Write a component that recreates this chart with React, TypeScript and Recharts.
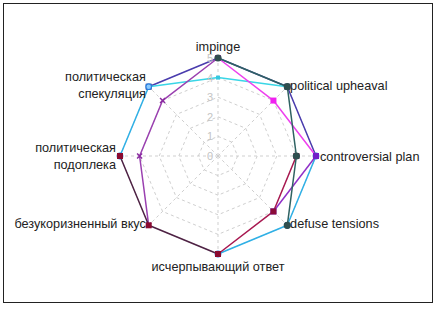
import { RadarChart, Radar, PolarGrid, PolarAngleAxis, PolarRadiusAxis } from 'recharts';

const categories = [
  'impinge',
  'political upheaval',
  'controversial plan',
  'defuse tensions',
  'исчерпывающий ответ',
  'безукоризненный вкус',
  'политическая\nподоплека',
  'политическая\nспекуляция',
];

// values per category, clockwise from the top; null = series not drawn on that axis
const navyValues = [5, 5, 5, null, null, null, null, 5];
const cyanValues = [4, 5, null, null, null, null, null, 5];
const magentaValues = [5, 4, 5, null, null, null, null, null];
const violetValues = [5, null, null, null, null, 5, 4, 4];
const skyValues = [null, null, 5, 5, 5, null, 5, 5];
const purpleValues = [null, null, 5, 4, null, null, null, null];
const crimsonValues = [null, null, 4, 4, 5, null, null, null];
const tealValues = [5, 5, 4, 5, null, null, null, null];
const maroonValues = [null, null, null, null, 5, 5, 5, null];

const radiusTicks = [0, 1, 2, 3, 4, 5];

const data = categories.map((name, i) => ({
  name,
  navy: navyValues[i],
  cyan: cyanValues[i],
  magenta: magentaValues[i],
  violet: violetValues[i],
  sky: skyValues[i],
  purple: purpleValues[i],
  crimson: crimsonValues[i],
  teal: tealValues[i],
  maroon: maroonValues[i],
}));

const CX = 218;
const CY = 156;
const RADIUS = 98;
const FONT = '"Liberation Sans", Arial, sans-serif';

function AngleTick(props: any) {
  const { payload } = props;
  const rad = (payload.coordinate * Math.PI) / 180;
  const cos = Math.cos(rad);
  const sin = Math.sin(rad);
  let x = CX + (RADIUS + 4) * cos;
  let y = CY - RADIUS * sin;
  if (Math.abs(cos) < 0.01) {
    x = CX;
    y -= 12 * Math.sign(sin);
  } else if (Math.abs(sin) > 0.01) {
    y -= 1.5;
  }
  const anchor = cos > 0.01 ? 'start' : cos < -0.01 ? 'end' : 'middle';
  const lines = String(payload.value).split('\n');
  return (
    <text x={x} y={y} textAnchor={anchor} fontSize={12.7} fill="#222" fontFamily={FONT}>
      {lines.map((line, i) => (
        <tspan key={i} x={x} y={y + 4.5 + (i - (lines.length - 1) / 2) * 17}>
          {line}
        </tspan>
      ))}
    </text>
  );
}

function RadiusTick(props: any) {
  const { x, y, payload } = props;
  return (
    <text x={x - 8} y={y + 4} textAnchor="middle" fontSize={11} fill="#c4c4c4" fontFamily={FONT}>
      {payload.value}
    </text>
  );
}

// the value behind a radar point / dot, null when the series skips that axis
const pointValue = (p: any) => {
  if (p.payload && 'x' in p.payload && 'value' in p.payload) return p.payload.value;
  if (p.payload && p.dataKey && p.dataKey in p.payload) return p.payload[p.dataKey];
  return p.value;
};

const hasValue = (p: any) => pointValue(p) != null;

// draws the radar outline, broken where a series has no value
const outline = (color: string) => (props: any) => {
  const pts = props.points || [];
  const n = pts.length;
  const valid = pts.map((p: any) => p.value != null);
  let d = '';
  if (valid.every(Boolean)) {
    d = 'M' + pts.map((p: any) => `${p.x},${p.y}`).join('L') + 'Z';
  } else {
    for (let i = 0; i < n; i++) {
      if (!valid[i] || valid[(i - 1 + n) % n]) continue;
      let j = i;
      d += `M${pts[j].x},${pts[j].y}`;
      while (valid[(j + 1) % n] && (j + 1) % n !== i) {
        j = (j + 1) % n;
        d += `L${pts[j].x},${pts[j].y}`;
      }
    }
  }
  return <path d={d} fill="none" stroke={color} strokeWidth={1.5} strokeLinejoin="round" />;
};

const square = (fill: string, size: number) => (p: any) =>
  hasValue(p) ? (
    <rect key={`sq-${p.index}`} x={p.cx - size / 2} y={p.cy - size / 2} width={size} height={size} fill={fill} />
  ) : (
    <g key={`sq-${p.index}`} />
  );

const circle = (fill: string, stroke: string, r: number) => (p: any) =>
  hasValue(p) ? (
    <circle key={`ci-${p.index}`} cx={p.cx} cy={p.cy} r={r} fill={fill} stroke={stroke} strokeWidth={1.2} />
  ) : (
    <g key={`ci-${p.index}`} />
  );

const cross = (stroke: string, size: number) => (p: any) =>
  hasValue(p) ? (
    <path
      key={`cr-${p.index}`}
      d={`M${p.cx - size},${p.cy - size}L${p.cx + size},${p.cy + size}M${p.cx - size},${p.cy + size}L${p.cx + size},${p.cy - size}`}
      stroke={stroke}
      strokeWidth={1.5}
    />
  ) : (
    <g key={`cr-${p.index}`} />
  );

const series = [
  { key: 'navy', color: '#4a3cae', dot: square('#3a2a7a', 6) },
  { key: 'cyan', color: '#3ad6e6', dot: square('#36c8e0', 4) },
  { key: 'magenta', color: '#ee40ee', dot: square('#f020f0', 6) },
  { key: 'violet', color: '#9a40b0', dot: cross('#8a2aa0', 2.5) },
  { key: 'sky', color: '#2fb0e6', dot: circle('#8ccaff', '#2a80e0', 2.8) },
  { key: 'purple', color: '#9030c8', dot: square('#7020c8', 6) },
  { key: 'crimson', color: '#a81850', dot: square('#8a0a38', 6) },
  { key: 'teal', color: '#2f6262', dot: circle('#2f4f4f', '#2f4f4f', 3) },
  { key: 'maroon', color: '#4e2244', dot: square('#8a0a30', 6) },
];

export default function App() {
  return (
    <div style={{ position: 'absolute', left: 0, top: 0, width: 439, height: 312, background: '#fff' }}>
      <div
        style={{
          position: 'absolute',
          left: 3,
          top: 3,
          width: 430,
          height: 300,
          border: '1px solid #222',
          boxSizing: 'border-box',
        }}
      />
      <div style={{ position: 'absolute', left: 0, top: 0 }}>
        <RadarChart width={439} height={312} cx={CX} cy={CY} outerRadius={RADIUS} data={data}>
          <PolarGrid gridType="polygon" stroke="#cfcfcf" strokeDasharray="3 3" />
          <PolarAngleAxis dataKey="name" tick={AngleTick} tickLine={false} axisLine={false} />
          <PolarRadiusAxis
            angle={90}
            domain={[0, 5]}
            ticks={radiusTicks}
            tick={RadiusTick}
            axisLine={false}
            tickLine={false}
          />
          {series.map((s) => (
            <Radar
              key={s.key}
              dataKey={s.key}
              stroke={s.color}
              strokeWidth={1.5}
              fill="none"
              fillOpacity={0}
              shape={outline(s.color)}
              dot={s.dot}
              isAnimationActive={false}
            />
          ))}
        </RadarChart>
      </div>
    </div>
  );
}
